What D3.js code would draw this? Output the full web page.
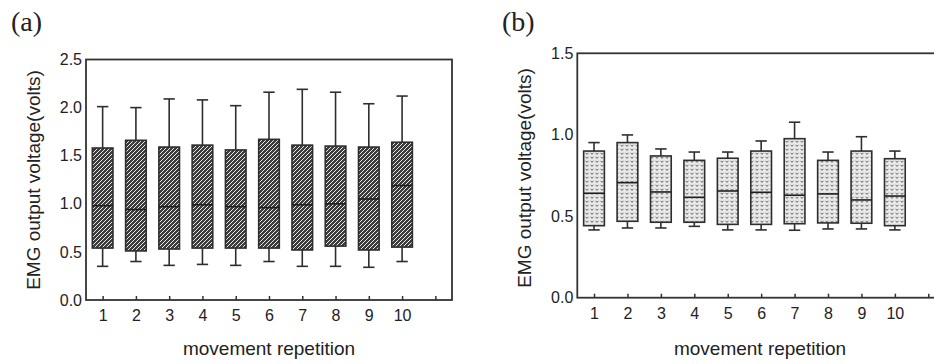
<!DOCTYPE html>
<html>
<head>
<meta charset="utf-8">
<script src="https://cdn.jsdelivr.net/npm/d3@7"></script>
<style>
  html, body { margin: 0; padding: 0; background: #fff; }
  svg { display: block; }
  text { font-family: "Liberation Sans", Arial, sans-serif; fill: #222; }
</style>
</head>
<body>
<svg id="chart" width="934" height="364"></svg>
<script>
// ---------- data ----------
const categories = [1, 2, 3, 4, 5, 6, 7, 8, 9, 10];
const xTickValues = [1, 2, 3, 4, 5, 6, 7, 8, 9, 10, 11];
const xTickLabels = ["1", "2", "3", "4", "5", "6", "7", "8", "9", "10", ""];

// Panel (a)
const aWhiskerLow  = [0.35, 0.40, 0.36, 0.37, 0.36, 0.40, 0.35, 0.35, 0.34, 0.40];
const aQ1          = [0.54, 0.51, 0.53, 0.54, 0.54, 0.54, 0.52, 0.56, 0.52, 0.55];
const aMedian      = [0.98, 0.94, 0.97, 0.99, 0.97, 0.96, 0.99, 1.00, 1.05, 1.19];
const aQ3          = [1.58, 1.66, 1.59, 1.61, 1.56, 1.67, 1.61, 1.60, 1.59, 1.64];
const aWhiskerHigh = [2.01, 2.00, 2.09, 2.08, 2.02, 2.16, 2.19, 2.16, 2.04, 2.12];
const aYTicks = [0, 0.5, 1.0, 1.5, 2.0, 2.5];

// Panel (b)
const bWhiskerLow  = [0.416, 0.428, 0.428, 0.438, 0.416, 0.416, 0.414, 0.422, 0.422, 0.416];
const bQ1          = [0.442, 0.469, 0.463, 0.463, 0.450, 0.450, 0.454, 0.459, 0.457, 0.442];
const bMedian      = [0.641, 0.706, 0.649, 0.616, 0.655, 0.647, 0.629, 0.637, 0.600, 0.624];
const bQ3          = [0.900, 0.952, 0.870, 0.843, 0.856, 0.900, 0.976, 0.843, 0.900, 0.853];
const bWhiskerHigh = [0.952, 0.999, 0.913, 0.894, 0.894, 0.962, 1.077, 0.894, 0.988, 0.900];
const bYTicks = [0, 0.5, 1.0, 1.5];

const yTitle = "EMG output voltage(volts)";
const xTitle = "movement repetition";

// ---------- drawing ----------
const svg = d3.select("#chart");
const defs = svg.append("defs");

// hatch pattern for (a)
const pA = defs.append("pattern").attr("id", "hatchA")
  .attr("patternUnits", "userSpaceOnUse").attr("width", 4).attr("height", 4);
pA.append("rect").attr("width", 4).attr("height", 4).attr("fill", "#3c3c3c");
pA.append("path").attr("d", "M-1,3 L2,0 M1,5 L4,2")
  .attr("stroke", "#f4f4f4").attr("stroke-width", 0.95);

// dotted "v" pattern for (b)
const pB = defs.append("pattern").attr("id", "dotB")
  .attr("patternUnits", "userSpaceOnUse").attr("width", 5).attr("height", 4);
pB.append("rect").attr("width", 5).attr("height", 4).attr("fill", "#e9e9e9");
pB.append("path").attr("d", "M0.6,0.8 L2,2.4 L3.4,0.8")
  .attr("fill", "none").attr("stroke", "#666").attr("stroke-width", 1);

function panel(opt) {
  const x = d3.scaleLinear().domain([0.5, 11.5]).range(opt.xr);
  const y = d3.scaleLinear().domain([0, opt.ymax]).range(opt.yr);
  const step = x(2) - x(1);
  const g = svg.append("g");

  const data = categories.map((c, i) => ({
    c, lo: opt.lo[i], q1: opt.q1[i], med: opt.med[i], q3: opt.q3[i], hi: opt.hi[i]
  }));
  const bw = step * 0.62, cw = step * 0.34;
  const box = g.selectAll("g.box").data(data).join("g").attr("class", "box");
  const stroke = "#2e2e2e", sw = 1.6;
  box.append("line").attr("x1", d => x(d.c)).attr("x2", d => x(d.c))
    .attr("y1", d => y(d.hi)).attr("y2", d => y(d.q3)).attr("stroke", stroke).attr("stroke-width", sw);
  box.append("line").attr("x1", d => x(d.c)).attr("x2", d => x(d.c))
    .attr("y1", d => y(d.q1)).attr("y2", d => y(d.lo)).attr("stroke", stroke).attr("stroke-width", sw);
  box.append("line").attr("x1", d => x(d.c) - cw / 2).attr("x2", d => x(d.c) + cw / 2)
    .attr("y1", d => y(d.hi)).attr("y2", d => y(d.hi)).attr("stroke", stroke).attr("stroke-width", sw);
  box.append("line").attr("x1", d => x(d.c) - cw / 2).attr("x2", d => x(d.c) + cw / 2)
    .attr("y1", d => y(d.lo)).attr("y2", d => y(d.lo)).attr("stroke", stroke).attr("stroke-width", sw);
  box.append("rect").attr("x", d => x(d.c) - bw / 2).attr("width", bw)
    .attr("y", d => y(d.q3)).attr("height", d => y(d.q1) - y(d.q3))
    .attr("fill", opt.fill).attr("stroke", stroke).attr("stroke-width", sw);
  box.append("line").attr("x1", d => x(d.c) - bw / 2).attr("x2", d => x(d.c) + bw / 2)
    .attr("y1", d => y(d.med)).attr("y2", d => y(d.med)).attr("stroke", "#1e1e1e").attr("stroke-width", 1.6);

  // frame
  g.append("rect").attr("x", x(0.5)).attr("y", y(opt.ymax))
    .attr("width", x(11.5) - x(0.5)).attr("height", y(0) - y(opt.ymax))
    .attr("fill", "none").attr("stroke", "#333").attr("stroke-width", 1.8);

  // x axis
  const xa = g.append("g").attr("transform", `translate(0,${y(0)})`)
    .call(d3.axisBottom(x).tickValues(xTickValues)
      .tickFormat((d, i) => xTickLabels[i]).tickSizeInner(-4).tickSizeOuter(0).tickPadding(10));
  xa.select(".domain").remove();
  xa.selectAll(".tick line").attr("stroke", "#333").attr("stroke-width", 1.5);
  xa.selectAll(".tick text").attr("font-size", 16).attr("fill", "#222")
    .style("font-family", "'Liberation Sans', Arial, sans-serif");

  // y axis
  const ya = g.append("g").attr("transform", `translate(${x(0.5)},0)`)
    .call(d3.axisLeft(y).tickValues(opt.yticks).tickFormat(d3.format(".1f"))
      .tickSize(0).tickPadding(4));
  ya.select(".domain").remove();
  ya.selectAll(".tick text").attr("font-size", 16).attr("fill", "#222")
    .style("font-family", "'Liberation Sans', Arial, sans-serif");

  // titles
  g.append("text").attr("transform", `translate(${opt.ytx},${opt.yty}) rotate(-90)`)
    .attr("text-anchor", "middle").attr("font-size", 19).text(yTitle);
  g.append("text").attr("x", opt.xtx).attr("y", 355)
    .attr("text-anchor", "middle").attr("font-size", 19).text(xTitle);
  g.append("text").attr("x", opt.lx).attr("y", 31)
    .attr("font-size", 28).style("font-family", "'Liberation Serif', 'Times New Roman', serif")
    .text(opt.label);
}

panel({
  xr: [86, 452], yr: [300, 59.5], ymax: 2.5, yticks: aYTicks,
  lo: aWhiskerLow, q1: aQ1, med: aMedian, q3: aQ3, hi: aWhiskerHigh,
  fill: "url(#hatchA)", ytx: 40, yty: 180, xtx: 269, lx: 11, label: "(a)"
});
panel({
  xr: [577.3, 945], yr: [297.7, 53.3], ymax: 1.5, yticks: bYTicks,
  lo: bWhiskerLow, q1: bQ1, med: bMedian, q3: bQ3, hi: bWhiskerHigh,
  fill: "url(#dotB)", ytx: 531, yty: 178, xtx: 760, lx: 502, label: "(b)"
});
</script>
</body>
</html>
